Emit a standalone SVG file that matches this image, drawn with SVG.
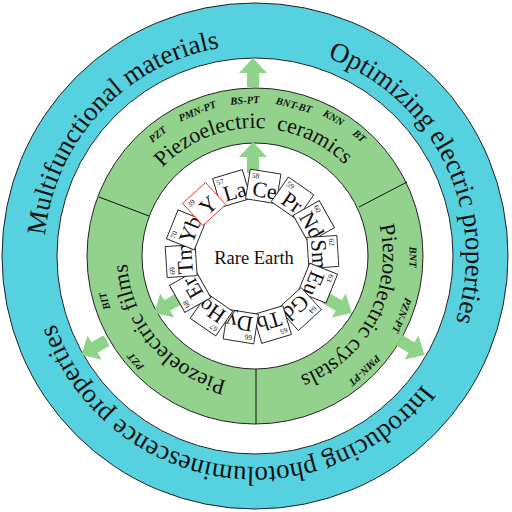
<svg xmlns="http://www.w3.org/2000/svg" width="512" height="512" viewBox="0 0 512 512">
<style>
text{font-family:"Liberation Serif","Times New Roman",serif;fill:#111}
.ring{font-size:27px}
.sec{font-size:22px}
.lab{font-size:10.5px;font-style:italic;font-weight:bold;text-anchor:middle}
.arrow{fill:#8fd28a}
.box rect{fill:#fff;stroke:#222;stroke-width:0.9}
.box .num{font-size:7.5px}
.box .sym{font-size:22px;text-anchor:middle}
</style>
<defs>
<path id="pBlue" d="M255,45 A211,211 0 1 1 255,467 A211,211 0 1 1 255,45"/>
<path id="pGreen" d="M255,384 A128,128 0 1 1 255,128 A128,128 0 1 1 255,384"/>
<polygon id="arr" points="0,-6 14,-6 14,-14 29,0 14,14 14,6 0,6"/>
<polygon id="arrIn" points="0,-6 16,-6 16,-14 31,0 16,14 16,6 0,6"/>
</defs>
<g id="rings">
<circle cx="255" cy="256" r="253" fill="#56d1e0" stroke="#222" stroke-width="1"/>
<circle cx="255" cy="256" r="198" fill="#fff" stroke="#222" stroke-width="1"/>
<circle cx="255" cy="256" r="168" fill="#93d28c" stroke="#222" stroke-width="1"/>
<circle cx="255" cy="256" r="113" fill="#fff" stroke="#222" stroke-width="1"/>
</g>
<g id="connectors">
<line x1="99" y1="197" x2="149" y2="216" stroke="#111" stroke-width="1"/>
<line x1="407" y1="182" x2="359" y2="207" stroke="#111" stroke-width="1"/>
<line x1="256" y1="369" x2="256" y2="424" stroke="#111" stroke-width="1"/>
<use href="#arr" class="arrow" transform="translate(253,256) rotate(-90) translate(169,0)"/>
<use href="#arr" class="arrow" transform="translate(253,256) rotate(30) translate(169,0)"/>
<use href="#arr" class="arrow" transform="translate(253,256) rotate(150) translate(169,0)"/>
<use href="#arrIn" class="arrow" transform="translate(253,256) rotate(-90) translate(83,0)"/>
<use href="#arrIn" class="arrow" transform="translate(253,256) rotate(30) translate(83,0)"/>
<use href="#arrIn" class="arrow" transform="translate(253,256) rotate(150) translate(83,0)"/>
</g>
<g id="outer-texts" class="ring">
<text id="t-multi"><textPath href="#pBlue" startOffset="1152" text-anchor="middle">Multifunctional materials</textPath></text>
<text id="t-opt"><textPath href="#pBlue" startOffset="236" text-anchor="middle">Optimizing electric properties</textPath></text>
<text id="t-intro"><textPath href="#pBlue" startOffset="697" text-anchor="middle">Introducing photoluminescence properties</textPath></text>
</g>
<g id="ceramics">
<text class="sec"><textPath href="#pGreen" startOffset="400" text-anchor="middle" xml:space="preserve">Piezoelectric  ceramics</textPath></text>
<text class="lab" transform="translate(255,256) rotate(231.3) translate(156,0) rotate(90)" y="3.5">PZT</text>
<text class="lab" transform="translate(255,256) rotate(248.3) translate(156,0) rotate(90)" y="3.5">PMN-PT</text>
<text class="lab" transform="translate(255,256) rotate(266.3) translate(156,0) rotate(90)" y="3.5">BS-PT</text>
<text class="lab" transform="translate(255,256) rotate(284.5) translate(156,0) rotate(90)" y="3.5">BNT-BT</text>
<text class="lab" transform="translate(255,256) rotate(299.6) translate(159,0) rotate(90)" y="3.5">KNN</text>
<text class="lab" transform="translate(255,256) rotate(311) translate(159,0) rotate(90)" y="3.5">BT</text>
</g>
<g id="crystals">
<text class="sec"><textPath href="#pGreen" startOffset="665" text-anchor="middle">Piezoelectric crystals</textPath></text>
<text class="lab" transform="translate(255,256) rotate(0.4) translate(158,0) rotate(90)" y="3.5">BNT</text>
<text class="lab" transform="translate(255,256) rotate(22) translate(158.5,0) rotate(90)" y="3.5">PZN-PT</text>
<text class="lab" transform="translate(255,256) rotate(46.3) translate(158.5,0) rotate(90)" y="3.5">PMN-PT</text>
</g>
<g id="films">
<text class="sec"><textPath href="#pGreen" startOffset="111" text-anchor="middle">Piezoelectric films</textPath></text>
<text class="lab" transform="translate(255,256) rotate(163.3) translate(157,0) rotate(90)" y="3.5">BIT</text>
<text class="lab" transform="translate(255,256) rotate(138.5) translate(159.5,0) rotate(90)" y="3.5">PZT</text>
</g>
<g id="rare-earth">
<g class="box" transform="translate(252,256.5) rotate(-16.6) translate(0,-71)"><rect x="-15.5" y="-15" width="31" height="30"/><text class="num" x="-13" y="-7">57</text><text class="sym" x="2" y="11">La</text></g>
<g class="box" transform="translate(252,256.5) rotate(9.1) translate(0,-71)"><rect x="-15.5" y="-15" width="31" height="30"/><text class="num" x="-13" y="-7">58</text><text class="sym" x="2" y="11">Ce</text></g>
<g class="box" transform="translate(252,256.5) rotate(34.8) translate(0,-71)"><rect x="-15.5" y="-15" width="31" height="30"/><text class="num" x="-13" y="-7">59</text><text class="sym" x="2" y="11">Pr</text></g>
<g class="box" transform="translate(252,256.5) rotate(60.5) translate(0,-71)"><rect x="-15.5" y="-15" width="31" height="30"/><text class="num" x="-13" y="-7">60</text><text class="sym" x="2" y="11">Nd</text></g>
<g class="box" transform="translate(252,256.5) rotate(86.3) translate(0,-71)"><rect x="-15.5" y="-15" width="31" height="30"/><text class="num" x="-13" y="-7">62</text><text class="sym" x="2" y="11">Sm</text></g>
<g class="box" transform="translate(252,256.5) rotate(112) translate(0,-71)"><rect x="-15.5" y="-15" width="31" height="30"/><text class="num" x="-13" y="-7">63</text><text class="sym" x="2" y="11">Eu</text></g>
<g class="box" transform="translate(252,256.5) rotate(137.7) translate(0,-71)"><rect x="-15.5" y="-15" width="31" height="30"/><text class="num" x="-13" y="-7">64</text><text class="sym" x="2" y="11">Gd</text></g>
<g class="box" transform="translate(252,256.5) rotate(163.4) translate(0,-71)"><rect x="-15.5" y="-15" width="31" height="30"/><text class="num" x="-13" y="-7">65</text><text class="sym" x="2" y="11">Tb</text></g>
<g class="box" transform="translate(252,256.5) rotate(189.1) translate(0,-71)"><rect x="-15.5" y="-15" width="31" height="30"/><text class="num" x="-13" y="-7">66</text><text class="sym" x="2" y="11">Dy</text></g>
<g class="box" transform="translate(252,256.5) rotate(214.8) translate(0,-71)"><rect x="-15.5" y="-15" width="31" height="30"/><text class="num" x="-13" y="-7">67</text><text class="sym" x="2" y="11">Ho</text></g>
<g class="box" transform="translate(252,256.5) rotate(240.5) translate(0,-71)"><rect x="-15.5" y="-15" width="31" height="30"/><text class="num" x="-13" y="-7">68</text><text class="sym" x="2" y="11">Er</text></g>
<g class="box" transform="translate(252,256.5) rotate(266.3) translate(0,-71)"><rect x="-15.5" y="-15" width="31" height="30"/><text class="num" x="-13" y="-7">69</text><text class="sym" x="2" y="11">Tm</text></g>
<g class="box" transform="translate(252,256.5) rotate(292) translate(0,-71)"><rect x="-15.5" y="-15" width="31" height="30"/><text class="num" x="-13" y="-7">70</text><text class="sym" x="2" y="11">Yb</text></g>
<g class="box" transform="translate(252,256.5) rotate(317.7) translate(0,-71)"><rect x="-15.5" y="-15" width="31" height="30" style="stroke:#e8302a"/><text class="num" x="-13" y="-7">39</text><text class="sym" x="2" y="11">Y</text></g>
<text x="254" y="264" font-size="18.5" text-anchor="middle">Rare Earth</text>
</g>
</svg>
